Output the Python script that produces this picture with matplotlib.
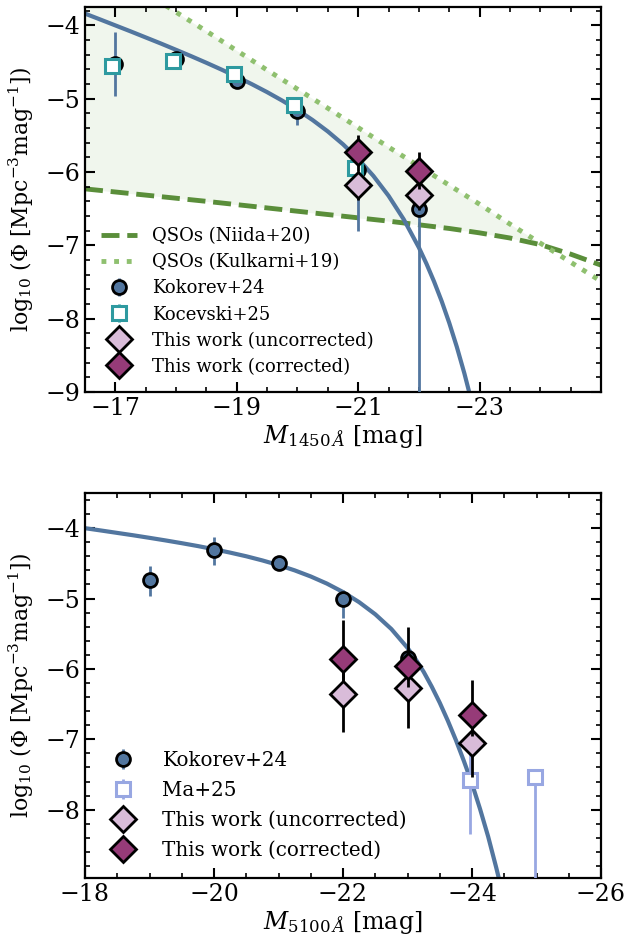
import numpy as np
import matplotlib
matplotlib.use("Agg")
import matplotlib.pyplot as plt
from matplotlib.ticker import MultipleLocator, FixedLocator

plt.rcParams['font.family'] = ['DejaVu Serif']
plt.rcParams['mathtext.fontset'] = 'dejavuserif'

# ---------------- Top panel data (M1450) ----------------
qso_M = [-16.5, -17.5, -18.5, -19.5, -20.5, -21.5, -22.0, -22.5, -23.0, -23.5, -24.0, -24.5, -25.0]
niida_logphi = [-6.23, -6.315, -6.40, -6.49, -6.58, -6.67, -6.72, -6.77, -6.83, -6.90, -6.99, -7.12, -7.27]
kulkarni_logphi = [-3.03, -3.56, -4.08, -4.61, -5.13, -5.66, -5.92, -6.18, -6.44, -6.71, -6.97, -7.23, -7.49]

fit1450_M = [-16.5, -16.75, -17.0, -17.25, -17.5, -17.75, -18.0, -18.25, -18.5, -18.75, -19.0, -19.25,
             -19.5, -19.75, -20.0, -20.25, -20.5, -20.75, -21.0, -21.25, -21.5, -21.75, -22.0,
             -22.125, -22.25, -22.375, -22.5, -22.625, -22.75, -22.875, -23.0]
fit1450_logphi = [-3.840, -3.920, -4.001, -4.082, -4.165, -4.248, -4.334, -4.421, -4.511, -4.604, -4.701, -4.803,
                  -4.911, -5.027, -5.153, -5.292, -5.447, -5.622, -5.822, -6.053, -6.324, -6.645, -7.030,
                  -7.251, -7.494, -7.761, -8.057, -8.385, -8.748, -9.150, -9.595]

kok1450_M = [-17, -18, -19, -20, -21, -22]
kok1450_logphi = [-4.53, -4.46, -4.76, -5.17, -5.97, -6.50]
kok1450_lo = [0.44, 0.08, 0.08, 0.19, 0.84, 3.0]
kok1450_hi = [0.44, 0.08, 0.08, 0.17, 0.20, 0.07]

koc_M = [-16.95, -17.95, -18.95, -19.95, -20.95]
koc_logphi = [-4.55, -4.49, -4.66, -5.08, -5.95]
koc_err = [0.1, 0.1, 0.1, 0.1, 0.1]

tw1450_M = [-21, -22]
tw1450_unc = [-6.18, -6.32]
tw1450_unc_lo = [0.2, 0.2]
tw1450_unc_hi = [0.2, 0.2]
tw1450_cor = [-5.73, -5.98]
tw1450_cor_lo = [0.25, 0.25]
tw1450_cor_hi = [0.24, 0.25]

# ---------------- Bottom panel data (M5100) ----------------
fit5100_M = [-18.0, -18.25, -18.5, -18.75, -19.0, -19.25, -19.5, -19.75, -20.0, -20.25, -20.5, -20.75,
             -21.0, -21.25, -21.5, -21.75, -22.0, -22.25, -22.5, -22.75, -23.0, -23.125, -23.25,
             -23.375, -23.5, -23.625, -23.75, -23.875, -24.0, -24.125, -24.25, -24.375, -24.5]
fit5100_logphi = [-4.000, -4.033, -4.067, -4.101, -4.137, -4.174, -4.213, -4.254, -4.299, -4.347, -4.399, -4.458,
                  -4.524, -4.599, -4.686, -4.787, -4.907, -5.051, -5.223, -5.433, -5.70, -5.86, -6.04,
                  -6.25, -6.48, -6.735, -7.01, -7.31, -7.63, -7.99, -8.38, -8.82, -9.29]

kok5100_M = [-19, -20, -21, -22, -23]
kok5100_logphi = [-4.73, -4.31, -4.50, -5.01, -5.84]
kok5100_lo = [0.23, 0.21, 0.10, 0.26, 0.15]
kok5100_hi = [0.19, 0.18, 0.10, 0.13, 0.15]

ma_M = [-23.97, -24.97]
ma_logphi = [-7.58, -7.54]
ma_lo = [0.76, 2.0]
ma_hi = [0.37, 0.05]

tw5100_M = [-22, -23, -24]
tw5100_unc = [-6.35, -6.27, -7.05]
tw5100_unc_lo = [0.54, 0.57, 0.48]
tw5100_unc_hi = [0.3, 0.3, 0.3]
tw5100_cor = [-5.86, -5.96, -6.65]
tw5100_cor_lo = [0.3, 0.3, 0.3]
tw5100_cor_hi = [0.55, 0.55, 0.49]

# ---------------- Styles ----------------
c_kok = '#52769f'
c_koc = '#2e9aa0'
c_ma = '#98a7e2'
c_unc = '#d9bcd9'
c_cor = '#963b78'
c_niida = '#5a8e3a'
c_kulk = '#8fc06f'
c_fill = '#f0f6ed'

fig = plt.figure(figsize=(6.43, 9.34), dpi=100)
ax1 = fig.add_axes([85/643, 1-392/934, 516/643, 385/934])
ax2 = fig.add_axes([85/643, 1-878/934, 516/643, 385/934])

ylabel = r'$\log_{10}\,(\Phi\ [\mathrm{Mpc}^{-3}\mathrm{mag}^{-1}])$'

def style(ax):
    ax.tick_params(which='both', direction='in', top=True, right=True, labelsize=17, pad=3.5)
    ax.tick_params(which='major', length=7, width=1.5)
    ax.tick_params(which='minor', length=3.5, width=1.2)
    for s in ax.spines.values():
        s.set_linewidth(1.6)
    ax.yaxis.set_major_locator(MultipleLocator(1))
    ax.yaxis.set_minor_locator(MultipleLocator(0.2))
    ax.xaxis.set_minor_locator(MultipleLocator(0.5))

# ---- top ----
qM = np.array(qso_M); nd = np.array(niida_logphi); kl = np.array(kulkarni_logphi)
ax1.fill_between(qM, nd, kl, where=kl >= nd, interpolate=True, color=c_fill, lw=0, zorder=0)
ax1.plot(qso_M, niida_logphi, color=c_niida, lw=3.5, ls=(0, (3.7, 1.6)), zorder=1, label='QSOs (Niida+20)')
ax1.plot(qso_M, kulkarni_logphi, color=c_kulk, lw=3.5, ls=(0, (1, 1.6)), zorder=1, label='QSOs (Kulkarni+19)')
ax1.plot(fit1450_M, fit1450_logphi, color=c_kok, lw=3, zorder=2, solid_joinstyle='round')
ax1.errorbar(kok1450_M, kok1450_logphi, yerr=[kok1450_lo, kok1450_hi], fmt='o', ms=10, mfc=c_kok,
             mec='black', mew=2, ecolor=c_kok, elinewidth=2, zorder=3, label='Kokorev+24')
ax1.errorbar(koc_M, koc_logphi, yerr=koc_err, fmt='s', ms=10.5, mfc='white', mec=c_koc, mew=2.2,
             ecolor=c_koc, elinewidth=2, zorder=4, label='Kocevski+25')
ax1.errorbar(tw1450_M, tw1450_unc, yerr=[tw1450_unc_lo, tw1450_unc_hi], fmt='D', ms=13, mfc=c_unc,
             mec='black', mew=2, ecolor='black', elinewidth=2, zorder=5, label='This work (uncorrected)')
ax1.errorbar(tw1450_M, tw1450_cor, yerr=[tw1450_cor_lo, tw1450_cor_hi], fmt='D', ms=13, mfc=c_cor,
             mec='black', mew=2, ecolor='black', elinewidth=2, zorder=6, label='This work (corrected)')
ax1.set_xlim(-16.5, -25)
ax1.set_ylim(-9, -3.75)
style(ax1)
ax1.xaxis.set_major_locator(FixedLocator([-17, -19, -21, -23]))
ax1.set_xlabel(r'$M_{1450\,\AA}$ [mag]', fontsize=17, labelpad=2)
ax1.set_ylabel(ylabel, fontsize=15.8, labelpad=7)
ax1.legend(loc='lower left', frameon=False, fontsize=13, labelspacing=0.45)

# ---- bottom ----
ax2.plot(fit5100_M, fit5100_logphi, color=c_kok, lw=3, zorder=2, solid_joinstyle='round')
ax2.errorbar(kok5100_M, kok5100_logphi, yerr=[kok5100_lo, kok5100_hi], fmt='o', ms=10, mfc=c_kok,
             mec='black', mew=2, ecolor=c_kok, elinewidth=2, zorder=3, label='Kokorev+24')
ax2.errorbar(ma_M, ma_logphi, yerr=[ma_lo, ma_hi], fmt='s', ms=10.5, mfc='white', mec=c_ma, mew=2.2,
             ecolor=c_ma, elinewidth=2, zorder=4, label='Ma+25')
ax2.errorbar(tw5100_M, tw5100_unc, yerr=[tw5100_unc_lo, tw5100_unc_hi], fmt='D', ms=13, mfc=c_unc,
             mec='black', mew=2, ecolor='black', elinewidth=2, zorder=5, label='This work (uncorrected)')
ax2.errorbar(tw5100_M, tw5100_cor, yerr=[tw5100_cor_lo, tw5100_cor_hi], fmt='D', ms=13, mfc=c_cor,
             mec='black', mew=2, ecolor='black', elinewidth=2, zorder=6, label='This work (corrected)')
ax2.set_xlim(-18, -26)
ax2.set_ylim(-8.97, -3.5)
style(ax2)
ax2.xaxis.set_major_locator(MultipleLocator(2))
ax2.set_xlabel(r'$M_{5100\,\AA}$ [mag]', fontsize=17, labelpad=2)
ax2.set_ylabel(ylabel, fontsize=15.8, labelpad=7)
ax2.legend(loc='lower left', frameon=False, fontsize=14.3, labelspacing=0.55, handletextpad=1.0)

fig.savefig('out.png', dpi=100)
